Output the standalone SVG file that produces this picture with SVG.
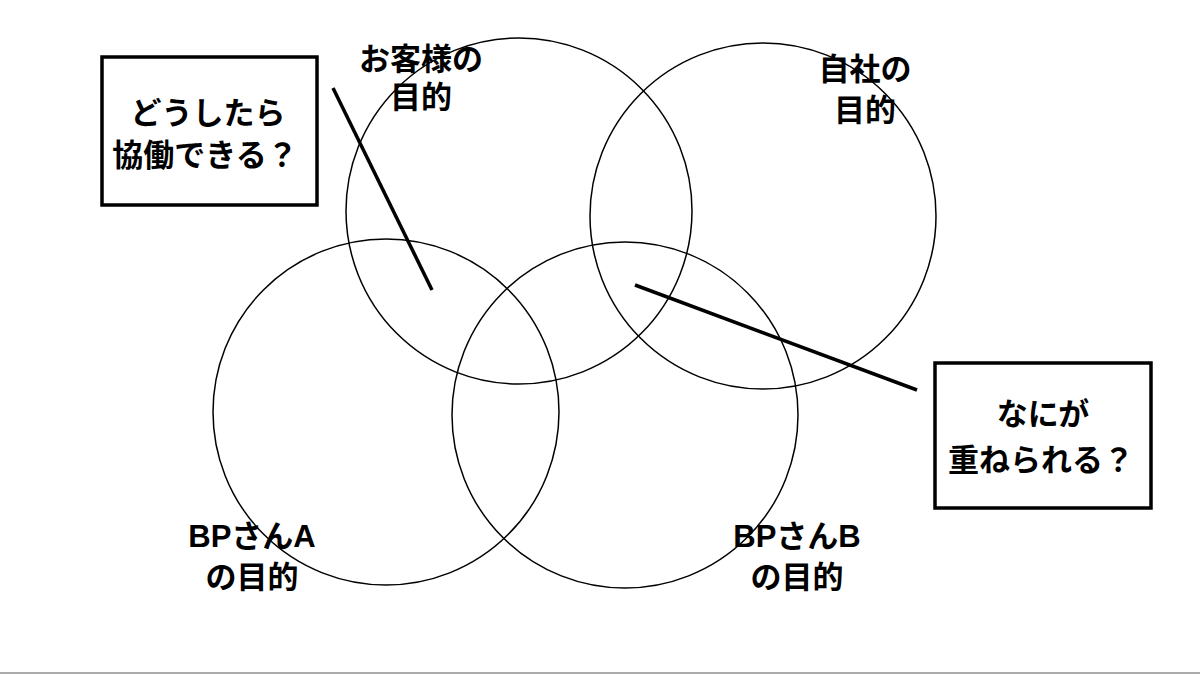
<svg xmlns="http://www.w3.org/2000/svg" width="1200" height="676" viewBox="0 0 1200 676">
<style>
.c{fill:none;stroke:#000;stroke-width:1.5}
.b{fill:#fff;stroke:#000;stroke-width:3.5}
.l{stroke:#000;stroke-width:3.5;fill:none}
text{font-family:"Liberation Sans","Noto Sans CJK JP","Noto Sans CJK SC",sans-serif;font-weight:bold;font-size:31px;fill:#000;text-anchor:middle}
</style>
<rect width="1200" height="676" fill="#fff"/>
<g id="circle-customer"><circle class="c" cx="519" cy="211" r="173"/></g>
<g id="circle-self"><circle class="c" cx="763" cy="216" r="173"/></g>
<g id="circle-bpa"><circle class="c" cx="386" cy="412" r="173"/></g>
<g id="circle-bpb"><circle class="c" cx="625" cy="415" r="173"/></g>
<g id="connectors">
<line class="l" x1="333" y1="88" x2="432" y2="290"/>
<line class="l" x1="635" y1="285" x2="917" y2="390"/>
</g>
<g id="label-customer"><text x="421" y="70">お客様の</text><text x="421" y="108">目的</text></g>
<g id="label-self"><text x="865" y="80">自社の</text><text x="865" y="121">目的</text></g>
<g id="label-bpa"><text x="252" y="547">BPさんA</text><text x="252" y="588">の目的</text></g>
<g id="label-bpb"><text x="797" y="547">BPさんB</text><text x="797" y="588">の目的</text></g>
<g id="box-collab"><rect class="b" x="102" y="57" width="215" height="148"/><text x="208" y="124">どうしたら</text><text x="205" y="166">協働できる？</text></g>
<g id="box-overlap"><rect class="b" x="935" y="363" width="216" height="145"/><text x="1043" y="425">なにが</text><text x="1041" y="471">重ねられる？</text></g>
<line x1="0" y1="673" x2="1200" y2="673" stroke="#aaa" stroke-width="2"/>
</svg>
